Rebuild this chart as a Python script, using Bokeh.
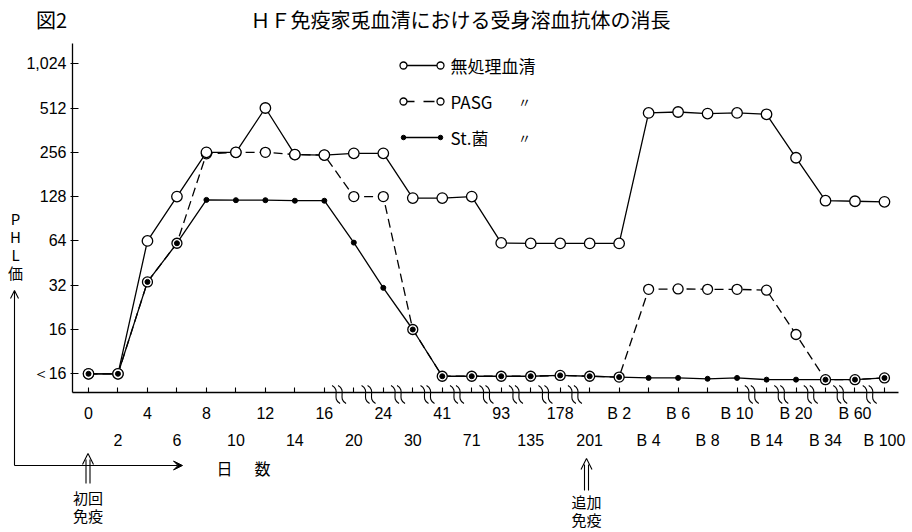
from bokeh.plotting import figure
from bokeh.models import FixedTicker, LinearAxis, Label, Arrow, OpenHead, VeeHead, Range1d
from bokeh.embed import file_html
from bokeh.resources import INLINE

# ---------------- data ----------------
days = ["0", "2", "4", "6", "8", "10", "12", "14", "16", "20", "24", "30", "41", "71",
        "93", "135", "178", "201", "B 2", "B 4", "B 6", "B 8", "B 10", "B 14", "B 20",
        "B 34", "B 60", "B 100"]
# PHL titres; 8 stands for "<16"
untreated = [8, 8, 64, 128, 256, 256, 512, 247, 245, 252, 252, 125, 125, 128,
             62, 61.5, 61.5, 61.5, 61.5, 474, 481, 469, 474, 464, 235, 120, 119, 118]
pasg = [8, 8, 33.7, 61.7, 250, 256, 256, 247, 245, 128, 128, 16, 7.7, 7.7,
        7.7, 7.7, 7.8, 7.7, 7.6, 30, 30.2, 30, 30, 29.6, 14.8, 7.3, 7.3, 7.5]
st_kin = [8, 8, 33.7, 61.7, 121.6, 121, 121, 120, 120, 62.3, 30.7, 16, 7.7, 7.7,
          7.7, 7.7, 7.8, 7.7, 7.6, 7.5, 7.5, 7.4, 7.5, 7.3, 7.3, 7.3, 7.3, 7.5]
y_ticks = [8, 16, 32, 64, 128, 256, 512, 1024]
y_tick_labels = ["＜16", "16", "32", "64", "128", "256", "512", "1,024"]
# axis breaks lie between these category positions
break_after = [8, 9, 10, 11, 12, 13, 14, 15, 16, 22, 23, 24, 25, 26]

series_names = ["無処理血清", "PASG", "St.菌"]
title_text = "ＨＦ免疫家兎血清における受身溶血抗体の消長"

# ---------------- geometry (frame = whole canvas) ----------------
W, H = 912, 532
X0_PX = 88.0          # page x of first category
Y8_PX = 373.3         # page y of the "<16" level
PX_IDX = 29.48        # px per category step
PX_OCT = 44.3         # px per doubling
AX_X, AX_Y, AX_TOP, AX_RIGHT = 72, 392, 43, 898


def dx(px):   # page px -> data x
    return (px - X0_PX) / PX_IDX


def dy(py):   # page px -> data y (log)
    return 8 * 2 ** ((Y8_PX - py) / PX_OCT)


NUM_FONT = "Liberation Sans Narrow, Liberation Sans, sans-serif"
JP_FONT = "Noto Sans CJK JP"

p = figure(width=W, height=H, x_range=Range1d(dx(0), dx(W)),
           y_range=Range1d(dy(H), dy(0)), y_axis_type="log",
           output_backend="svg", toolbar_location=None, title=None, min_border=0)
p.xgrid.visible = False
p.ygrid.visible = False
p.outline_line_color = None
p.background_fill_color = "white"
p.border_fill_color = "white"

# y axis
ya = p.yaxis[0]
ya.fixed_location = dx(AX_X)
ya.bounds = (dy(AX_Y), dy(AX_TOP))
ya.ticker = FixedTicker(ticks=y_ticks)
ya.major_label_overrides = {v: s for v, s in zip(y_ticks, y_tick_labels)}
ya.minor_tick_line_color = None
ya.major_tick_in = 6
ya.major_tick_out = 2
ya.major_label_standoff = 4
ya.axis_line_width = 1.3
ya.major_tick_line_width = 1.2
ya.major_label_text_font = NUM_FONT
ya.major_label_text_font_size = "16px"
ya.major_label_text_color = "black"

# x axis (upper row of labels)
idx = list(range(len(days)))
xa = p.xaxis[0]
xa.fixed_location = dy(AX_Y)
xa.bounds = (dx(AX_X), dx(AX_RIGHT))
xa.ticker = FixedTicker(ticks=idx)
xa.major_label_overrides = {i: (d if i % 2 == 0 else "") for i, d in enumerate(days)}
xa.minor_tick_line_color = None
xa.major_tick_in = 5
xa.major_tick_out = 0
xa.major_label_standoff = 12
xa.axis_line_width = 1.3
xa.major_tick_line_width = 1.1
xa.major_label_text_font = NUM_FONT
xa.major_label_text_font_size = "16px"
xa.major_label_text_color = "black"

# x axis (lower row of labels)
odd = [i for i in idx if i % 2 == 1]
xa2 = LinearAxis(ticker=FixedTicker(ticks=odd), fixed_location=dy(AX_Y),
                 major_label_overrides={i: days[i] for i in odd},
                 axis_line_color=None, major_tick_line_color=None,
                 minor_tick_line_color=None, major_tick_in=0, major_tick_out=0,
                 major_label_standoff=39, major_label_text_font=NUM_FONT,
                 major_label_text_font_size="16px", major_label_text_color="black")
p.add_layout(xa2, "below")

# series
p.line(idx, untreated, line_color="black", line_width=1.3)
p.line(idx, pasg, line_color="black", line_width=1.3, line_dash="9 5")
p.line(idx, st_kin, line_color="black", line_width=1.3)
p.scatter(idx, pasg, marker="circle", size=10, fill_color="white",
          line_color="black", line_width=1.3)
p.scatter(idx, untreated, marker="circle", size=10.5, fill_color="white",
          line_color="black", line_width=1.3)
p.scatter(idx, st_kin, marker="circle", size=5, fill_color="black",
          line_color="black")

# axis-break marks
bx0, by0, bx1, by1, bcx0, bcy0, bcx1, bcy1 = [], [], [], [], [], [], [], []
for i in break_after:
    b = i + 0.5
    for off in (-3, 3):
        bx0.append(b + (off - 4) / PX_IDX); by0.append(dy(385))
        bx1.append(b + (off + 4) / PX_IDX); by1.append(dy(403))
        bcx0.append(b + (off + 5) / PX_IDX); bcy0.append(dy(390))
        bcx1.append(b + (off - 5) / PX_IDX); bcy1.append(dy(398))
p.bezier(x0=bx0, y0=by0, x1=bx1, y1=by1, cx0=bcx0, cy0=bcy0, cx1=bcx1, cy1=bcy1,
         line_color="black", line_width=1.1, level="overlay")

# legend (hand-drawn style)
rows = [65, 101, 137]
lx = [dx(403), dx(440)]
p.line(lx, [dy(rows[0])] * 2, line_color="black", line_width=1.3)
p.scatter(lx, [dy(rows[0])] * 2, marker="circle", size=7, fill_color="white",
          line_color="black", line_width=1.3)
p.line(lx, [dy(rows[1])] * 2, line_color="black", line_width=1.3, line_dash="11 9")
p.scatter(lx, [dy(rows[1])] * 2, marker="circle", size=7, fill_color="white",
          line_color="black", line_width=1.3)
p.line(lx, [dy(rows[2])] * 2, line_color="black", line_width=1.3)
p.scatter(lx, [dy(rows[2])] * 2, marker="circle", size=4.5, fill_color="black",
          line_color="black")
for r, name in zip(rows, series_names):
    p.add_layout(Label(x=dx(450), y=dy(r), text=name, text_align="left",
                       text_baseline="middle", text_font=JP_FONT,
                       text_font_size="17px", text_color="black"))
for r in rows[1:]:
    p.add_layout(Label(x=dx(524), y=dy(r), text="〃", text_align="center",
                       text_baseline="middle", text_font=JP_FONT,
                       text_font_size="13px", text_color="black"))

# titles
p.add_layout(Label(x=dx(51), y=dy(19), text="図2", text_align="center",
                   text_baseline="middle", text_font=JP_FONT, text_font_size="20px",
                   text_color="black"))
p.add_layout(Label(x=dx(460), y=dy(19), text=title_text, text_align="center",
                   text_baseline="middle", text_font=JP_FONT, text_font_size="20px",
                   text_color="black"))

# y label (vertical)
for ch, yy in zip(["P", "H", "L", "価"], [218, 236, 254, 272]):
    p.add_layout(Label(x=dx(15), y=dy(yy), text=ch, text_align="center",
                       text_baseline="middle", text_font=JP_FONT, text_font_size="15px",
                       text_color="black"))

# L-shaped arrows
p.add_layout(Arrow(end=OpenHead(size=8, line_width=1.1, line_color="black"),
                   x_start=dx(14), y_start=dy(465), x_end=dx(14), y_end=dy(290),
                   line_width=1.1, line_color="black"))
p.add_layout(Arrow(end=VeeHead(size=9, fill_color="black", line_color="black"),
                   x_start=dx(14), y_start=dy(465), x_end=dx(182), y_end=dy(465),
                   line_width=1.1, line_color="black"))
for ch, xx in zip(["日", "数"], [224, 262]):
    p.add_layout(Label(x=dx(xx), y=dy(467), text=ch, text_align="center",
                       text_baseline="middle", text_font=JP_FONT, text_font_size="16px",
                       text_color="black"))

# immunisation arrows
for xc, tip, bot, t1, t2, ty in [(87.5, 453, 483, "初回", "免疫", 497),
                                  (586, 458, 490, "追加", "免疫", 501)]:
    for sx in (-2, 2):
        p.add_layout(Arrow(end=None, x_start=dx(xc + sx), y_start=dy(bot),
                           x_end=dx(xc + sx), y_end=dy(tip + 6),
                           line_width=1.1, line_color="black"))
    p.add_layout(Arrow(end=OpenHead(size=11, line_width=1.1, line_color="black"),
                       x_start=dx(xc), y_start=dy(tip + 10), x_end=dx(xc), y_end=dy(tip),
                       line_alpha=0))
    p.add_layout(Label(x=dx(xc), y=dy(ty), text=t1, text_align="center",
                       text_baseline="middle", text_font=JP_FONT, text_font_size="15px",
                       text_color="black"))
    p.add_layout(Label(x=dx(xc), y=dy(ty + 18), text=t2, text_align="center",
                       text_baseline="middle", text_font=JP_FONT, text_font_size="15px",
                       text_color="black"))

with open("out.html", "w", encoding="utf-8") as f:
    f.write(file_html(p, INLINE))
